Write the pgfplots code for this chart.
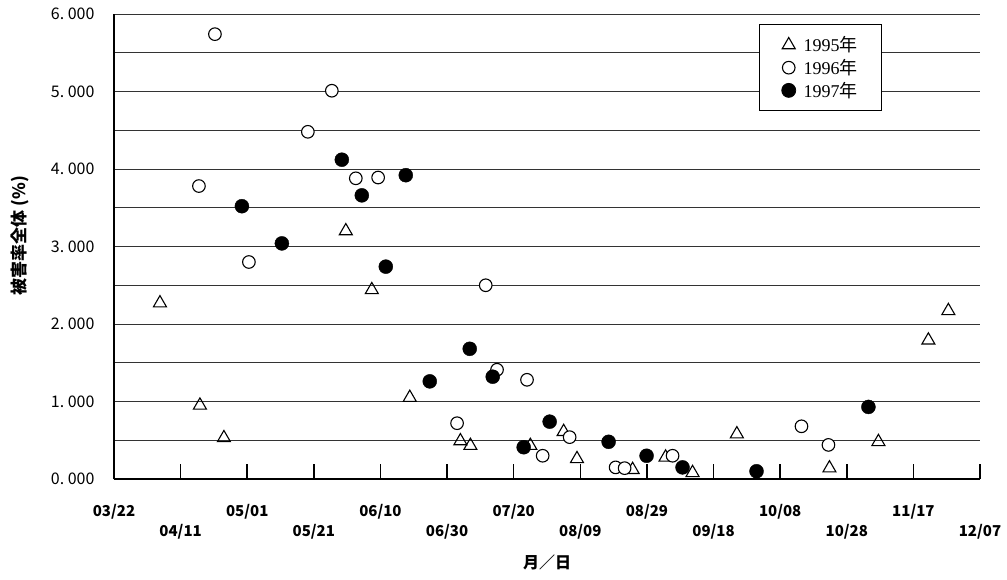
\documentclass[border=0pt]{standalone}
\usepackage{fontspec}
\usepackage{pgfplots}
\pgfplotsset{compat=1.18}
\newfontfamily\cjk{Noto Sans CJK JP}
\newfontfamily\lserif{Liberation Serif}
\begin{document}
\begin{tikzpicture}
\path[use as bounding box] (0,0) rectangle (1007pt,579pt);
\begin{axis}[
  at={(114pt,100pt)}, anchor=south west,
  scale only axis, width=866pt, height=465pt,
  xmin=0, xmax=260, ymin=0, ymax=6,
  clip=false,
  axis x line*=bottom, axis y line*=left,
  axis line style={line width=1.6pt, black, -},
  xtick={0,40,...,240},
  xticklabels={03/22,05/01,06/10,07/20,08/29,10/08,11/17},
  extra x ticks={20,60,...,260},
  extra x tick labels={04/11,05/21,06/30,08/09,09/18,10/28,12/07},
  extra x tick style={tick label style={yshift=-20pt}},
  x tick label style={font=\cjk\bfseries\fontsize{15}{18}\selectfont, yshift=-22pt},
  tick align=inside,
  xtick style={line width=1.6pt, black},
  major tick length=15pt,
  ytick={0,1,...,6},
  yticklabels={0.\ 000,1.\ 000,2.\ 000,3.\ 000,4.\ 000,5.\ 000,6.\ 000},
  y tick label style={font=\cjk\fontsize{16}{18}\selectfont, xshift=-16pt},
  ytick style={draw=none},
  minor ytick={0.5,1.5,...,5.5},
  ymajorgrids, yminorgrids,
  major grid style={black!80, line width=0.8pt},
  minor grid style={black!80, line width=0.8pt},
  legend style={at={(0.887,0.978)}, anchor=north east, draw=black, line width=0.8pt,
    font=\lserif\fontsize{18}{20}\selectfont, inner xsep=22pt, inner ysep=10pt,
    row sep=2pt, cells={anchor=west}},
  legend cell align=left,
]
\addplot[only marks, mark=triangle, mark size=7.5pt, mark options={line width=1.1pt, black, fill=white}] coordinates {
(13.8,2.27) (25.8,0.95) (33,0.53) (69.6,3.2) (77.4,2.44) (88.8,1.05) (104,0.49) (107,0.43)
(125,0.43) (135,0.61) (139,0.26) (155.7,0.12) (165.6,0.28) (173.7,0.08) (187,0.58)
(214.8,0.14) (229.5,0.48) (244.5,1.79) (250.5,2.17)
};
\addlegendentry{\hspace{6pt}1995{\cjk 年}}
\addplot[only marks, mark=*, mark size=6.3pt, mark options={line width=1.1pt, draw=black, fill=white}] coordinates {
(30.3,5.74) (25.5,3.78) (40.5,2.80) (58.2,4.48) (65.4,5.01) (72.6,3.88) (79.3,3.89)
(111.6,2.50) (103,0.72) (115,1.41) (124,1.28) (128.7,0.30) (136.8,0.54) (150.6,0.15)
(153.3,0.14) (167.7,0.30) (206.4,0.68) (214.5,0.44)
};
\addlegendentry{\hspace{6pt}1996{\cjk 年}}
\addplot[only marks, mark=*, mark size=7pt, mark options={black, fill=black}] coordinates {
(38.4,3.52) (50.4,3.04) (68.4,4.12) (74.4,3.66) (87.6,3.92) (81.6,2.74) (94.8,1.26)
(106.8,1.68) (113.7,1.32) (123,0.41) (130.8,0.74) (148.5,0.48) (159.9,0.30) (170.7,0.15)
(192.9,0.10) (226.5,0.93)
};
\addlegendentry{\hspace{6pt}1997{\cjk 年}}
\node[font=\cjk\bfseries\fontsize{16}{19}\selectfont] at (rel axis cs:0.5,0) [yshift=-83pt] {月／日};
\node[xshift=-94pt, font=\cjk\bfseries\fontsize{17}{18}\selectfont, rotate=90] at (rel axis cs:0,0.523) {被害率全体\ (\%)};
\end{axis}
\end{tikzpicture}
\end{document}
